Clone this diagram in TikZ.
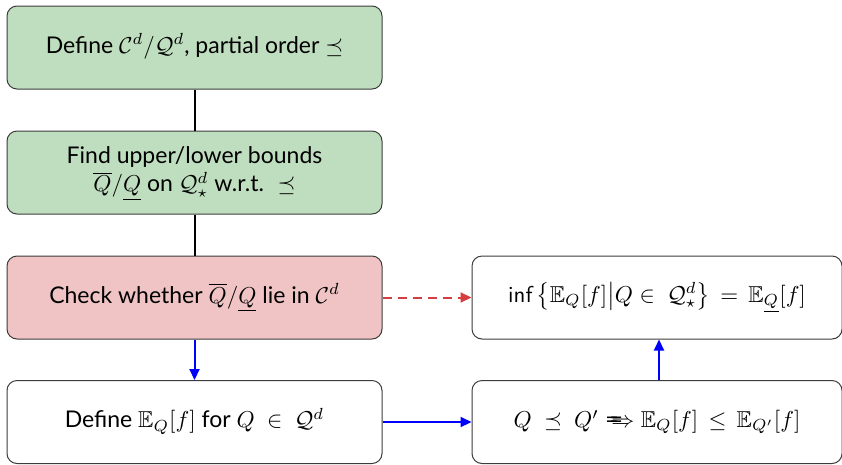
\documentclass[tikz,border=0pt]{standalone}
\usepackage{amsmath,amssymb}
\usepackage{graphicx}
\usepackage{fontspec}
\setmainfont{Lato}
\usetikzlibrary{arrows.meta}
\definecolor{boxgreen}{RGB}{191,222,191}
\definecolor{boxred}{RGB}{240,196,197}
\definecolor{edgegray}{RGB}{60,60,60}
\definecolor{dashred}{RGB}{212,62,62}
\newcommand{\bxt}[1]{\scalebox{2.3}{\begin{tabular}{@{}c@{}}#1\end{tabular}}}
\newcommand{\longimp}{\mathrel{\Relbar\mkern-7mu\Relbar\mkern-9mu\Rightarrow}}
\tikzset{
  stepbox/.style={draw=edgegray, line width=1pt, rounded corners=10pt,
    minimum width=375pt, minimum height=83pt, align=center, inner sep=0pt},
  rbox/.style={stepbox, minimum width=370pt},
  blueArrow/.style={draw=blue, line width=2pt, -{Triangle[length=11pt,width=10pt]}},
}
\begin{document}
\begin{tikzpicture}[x=1pt,y=-1pt]
\useasboundingbox (0,0) rectangle (842,464);
\node[stepbox, fill=boxgreen] (a) at (194.5,47.5) {\bxt{Define $\mathcal{C}^d/\mathcal{Q}^d$, partial order $\preceq$}};
\node[stepbox, fill=boxgreen] (b) at (194.5,172.5) {\bxt{Find upper/lower bounds\\ $\overline{Q}/\underline{Q}$ on $\mathcal{Q}^d_\star$ w.r.t. $\ \preceq$}};
\node[stepbox, fill=boxred] (c) at (194.5,297.5) {\bxt{Check whether $\overline{Q}/\underline{Q}$ lie in $\mathcal{C}^d$}};
\node[stepbox, fill=white] (e) at (194.5,422) {\bxt{Define $\mathbb{E}_Q[f]$ for $Q\ \in\ \mathcal{Q}^d$}};
\node[rbox, fill=white] (d) at (657,297.5) {\bxt{$\mathsf{inf}\left\{\mathbb{E}_Q[f]\middle|Q\in\ \mathcal{Q}^d_\star\right\}\,=\,\mathbb{E}_{\underline{Q}}[f]$}};
\node[rbox, fill=white] (f) at (657,422) {\bxt{$Q\ \preceq\ Q'\longimp\mathbb{E}_Q[f]\,\le\,\mathbb{E}_{Q'}[f]$}};
\draw[line width=2pt] (a) -- (b);
\draw[line width=2pt] (b) -- (c);
\draw[blueArrow] (c) -- (e);
\draw[blueArrow] (e) -- (f);
\draw[blueArrow] (f.north -| 659,0) -- (d.south -| 659,0);
\draw[draw=dashred, line width=2pt, dash pattern=on 9pt off 6pt, -{Triangle[length=11pt,width=10pt]}] (c) -- (d);
\end{tikzpicture}
\end{document}
